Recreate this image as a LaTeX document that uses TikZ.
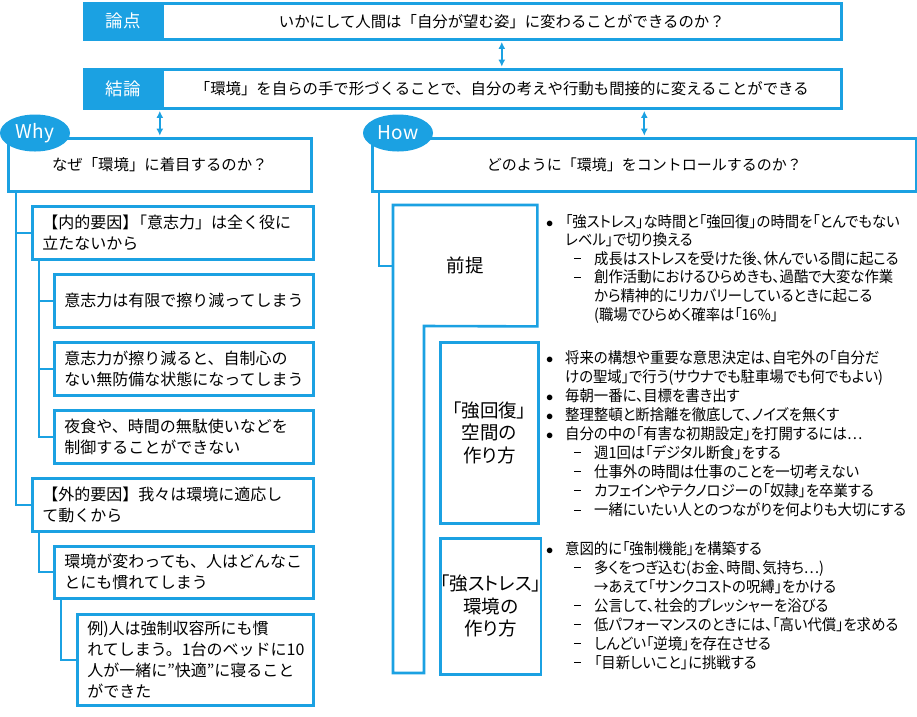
\documentclass[tikz,border=0pt]{standalone}
\usepackage{fontspec}
\setmainfont{Noto Sans CJK JP}
\newfontfamily\jpui[RawFeature={+palt}]{Noto Sans CJK JP}
\newfontfamily\jpuin[RawFeature={+palt},FakeStretch=0.94]{Noto Sans CJK JP}
\usetikzlibrary{shapes.geometric,arrows.meta}
\definecolor{cblue}{HTML}{1BA1E2}
\newcommand{\topfont}{\fontsize{15.4}{19}\selectfont}
\newcommand{\leftfont}{\fontsize{16}{21}\selectfont}
\newcommand{\labfont}{\fontsize{17.5}{20}\selectfont}
\newcommand{\circfont}{\fontsize{19}{22}\selectfont}
\newcommand{\lblfont}{\jpui\fontsize{18.5}{22.5}\selectfont}
\newcommand{\rBul}[1]{\makebox[20pt][l]{\hspace{1pt}$\bullet$}#1}
\newcommand{\rBc}[1]{\hspace*{20pt}#1}
\newcommand{\rDash}[1]{\hspace*{29pt}\makebox[20pt][l]{\rule[5.5pt]{7pt}{0.9pt}}#1}
\newcommand{\rDc}[1]{\hspace*{49pt}#1}
\begin{document}
\begin{tikzpicture}[x=1pt,y=-1pt,
  box/.style={draw=cblue, line width=2.6pt, fill=white, inner sep=0pt, line join=miter},
  lab/.style={box, fill=cblue, text=white, font=\labfont},
  lbox/.style={box, align=left, inner xsep=10pt, inner ysep=0pt, font=\leftfont, anchor=north west},
  cbox/.style={box, align=center, font=\topfont, anchor=north west},
  ubox/.style={box, align=center, font=\lblfont, anchor=north west},
  circ/.style={ellipse, fill=cblue, text=white, inner sep=0pt, minimum width=70, minimum height=37, font=\circfont},
  rtxt/.style={inner sep=0pt, align=left, text width=370, anchor=north west},
  conn/.style={draw=cblue, line width=2.2pt},
  arr/.style={conn, {Latex[length=7pt,width=7pt]}-{Latex[length=7pt,width=7pt]}, shorten <=1.3pt, shorten >=1.3pt}
]
\useasboundingbox (0,0) rectangle (917,716);
\fill[white] (0,0) rectangle (917,716);

% top boxes
\node[lab, minimum width=78, minimum height=36, anchor=north west] (rlab) at (83,2) {論点};
\node[cbox, minimum width=679, minimum height=36] (rtext) at (161,2) {いかにして人間は「自分が望む姿」に変わることができるのか？};
\node[lab, minimum width=78, minimum height=39, anchor=north west] (klab) at (83,68) {結論};
\node[cbox, minimum width=679, minimum height=39] (ktext) at (161,68) {「環境」を自らの手で形づくることで、自分の考えや行動も間接的に変えることができる};
\draw[arr] (rtext.south) -- (ktext.north);

% Why / How
\node[cbox, minimum width=303, minimum height=53] (why) at (7,137) {なぜ「環境」に着目するのか？};
\node[cbox, minimum width=544, minimum height=53, font=\fontsize{15}{19}\selectfont] (how) at (371,137) {どのように「環境」をコントロールするのか？};
\draw[arr] (why.north) -- (why.north |- ktext.south);
\draw[arr] (how.north) -- (how.north |- ktext.south);
\node[circ] (whyc) at (35,133) {Why};
\node[circ] (howc) at (398,133) {How};

% left column
\node[lbox, minimum width=281, minimum height=53, text width=261] (in1) at (31,205) {【内的要因】\kern-0.45em「意志力」は全く役に\\立たないから};
\node[lbox, minimum width=259, minimum height=53, text width=239] (s1) at (53,273) {意志力は有限で擦り減ってしまう};
\node[lbox, minimum width=259, minimum height=53, text width=239] (s2) at (53,341) {意志力が擦り減ると、自制心の\\ない無防備な状態になってしまう};
\node[lbox, minimum width=259, minimum height=53, text width=239] (s3) at (53,409) {夜食や、時間の無駄使いなどを\\制御することができない};
\node[lbox, minimum width=281, minimum height=53, text width=261] (ex1) at (31,477) {【外的要因】我々は環境に適応し\\て動くから};
\node[lbox, minimum width=259, minimum height=52, text width=239] (e1) at (53,545) {環境が変わっても、人はどんなこ\\とにも慣れてしまう};
\node[lbox, minimum width=236, minimum height=91, text width=216] (e2) at (76,613) {例)人は強制収容所にも慣\\れてしまう。1台のベッドに10\\人が一緒に”快適”に寝ること\\ができた};

\draw[conn] (why.south west) ++(9,0) |- (in1.west);
\draw[conn] (why.south west) ++(9,0) |- (ex1.west);
\draw[conn] (in1.south west) ++(8,0) |- (s1.west);
\draw[conn] (in1.south west) ++(8,0) |- (s2.west);
\draw[conn] (in1.south west) ++(8,0) |- (s3.west);
\draw[conn] (ex1.south west) ++(8,0) |- (e1.west);
\draw[conn] (e1.south west) ++(8,0) |- (e2.west);

% right column
\node[inner sep=0pt, minimum width=144, minimum height=121, anchor=north west, font=\lblfont] (pretop) at (393,205) {前提};
\draw[draw=cblue, line width=2.6pt, line join=miter] (pretop.north west) -- (pretop.north east) -- (pretop.south east) -- (424,326) -- (424,673) -- (393,673) -- cycle;
\draw[conn] (how.south west) ++(8,0) |- (pretop.west);
\node[ubox, minimum width=98, minimum height=181] (kai) at (439,341) {「強回復」\\空間の\\作り方};
\node[ubox, minimum width=98, minimum height=136] (str) at (439,537) {「強ストレス」\\環境の\\作り方};

\node[rtxt, font=\jpuin\fontsize{15.3}{18.6}\selectfont] (p1) at (545,214) {%
\rBul{「強ストレス」な時間と「強回復」の時間を「とんでもない}\\
\rBc{レベル」で切り換える}\\
\rDash{成長はストレスを受けた後、休んでいる間に起こる}\\
\rDash{創作活動におけるひらめきも、過酷で大変な作業}\\
\rDc{から精神的にリカバリーしているときに起こる}\\
\rDc{(職場でひらめく確率は「16\%」}};

\node[rtxt, font=\jpuin\fontsize{15.3}{19.1}\selectfont] (p2) at (545,350) {%
\rBul{将来の構想や重要な意思決定は、自宅外の「自分だ}\\
\rBc{けの聖域」で行う(サウナでも駐車場でも何でもよい)}\\
\rBul{毎朝一番に、目標を書き出す}\\
\rBul{整理整頓と断捨離を徹底して、ノイズを無くす}\\
\rBul{自分の中の「有害な初期設定」を打開するには…}\\
\rDash{週1回は「デジタル断食」をする}\\
\rDash{仕事外の時間は仕事のことを一切考えない}\\
\rDash{カフェインやテクノロジーの「奴隷」を卒業する}\\
\rDash{一緒にいたい人とのつながりを何よりも大切にする}};

\node[rtxt, font=\jpuin\fontsize{15.3}{19.1}\selectfont] (p3) at (545,541) {%
\rBul{意図的に「強制機能」を構築する}\\
\rDash{多くをつぎ込む(お金、時間、気持ち…)}\\
\rDc{→あえて「サンクコストの呪縛」をかける}\\
\rDash{公言して、社会的プレッシャーを浴びる}\\
\rDash{低パフォーマンスのときには、「高い代償」を求める}\\
\rDash{しんどい「逆境」を存在させる}\\
\rDash{「目新しいこと」に挑戦する}};
\end{tikzpicture}
\end{document}
